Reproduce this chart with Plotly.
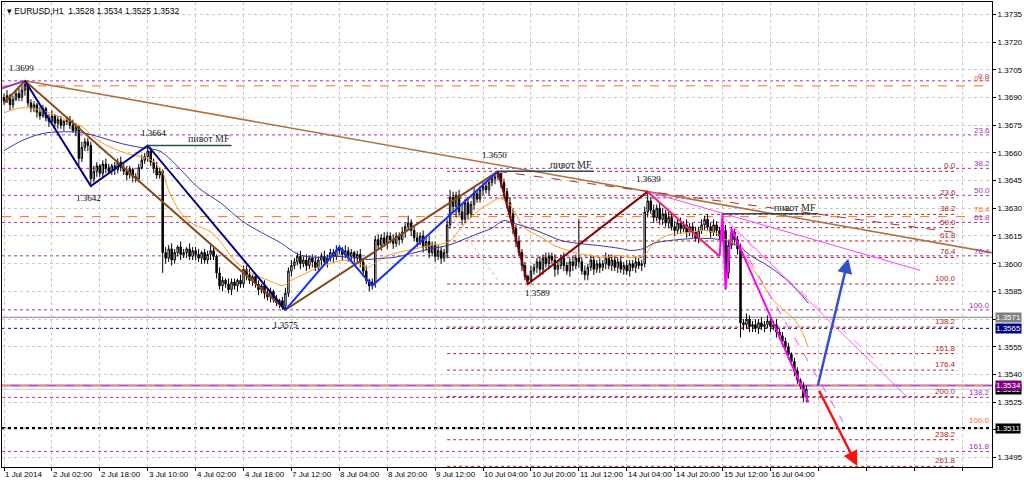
import plotly.graph_objects as go

BASE = 1.3500
PIP = 0.0001

# ---------------- data (prices in pips above 1.3500) ----------------
# H1 bars, bar 0 = 1 Jul 2014 10:00
closes_pips = [
    188, 191, 186, 189, 192, 190, 194, 197, 187, 184,
    186, 182, 180, 184, 179, 177, 180, 176, 178, 175,
    177, 178, 175, 172, 174, 157, 163, 166, 164, 146,
    150, 153, 149, 154, 152, 150, 153, 151, 155, 152,
    150, 148, 151, 147, 146, 152, 156, 158, 161, 155,
    152, 148, 150, 106, 103, 108, 102, 106, 109, 105,
    106, 108, 104, 107, 105, 103, 106, 102, 105, 107,
    104, 95, 88, 91, 89, 86, 90, 88, 91, 89,
    97, 94, 91, 93, 89, 86, 88, 84, 82, 85,
    81, 79, 80, 77, 84, 96, 99, 101, 104, 100,
    102, 99, 103, 101, 98, 102, 104, 101, 103, 106,
    104, 107, 108, 105, 107, 104, 106, 103, 105, 101,
    96, 91, 88, 90, 113, 110, 114, 111, 115, 113,
    111, 115, 113, 117, 120, 122, 118, 114, 112, 115,
    109, 112, 106, 110, 104, 107, 103, 106, 121, 136,
    131, 137, 128, 124, 133, 127, 132, 138, 135, 140,
    142, 140, 144, 146, 147, 149, 144, 139, 133, 127,
    119, 112, 106, 99, 93, 91, 96, 98, 101, 97,
    103, 100, 104, 102, 97, 99, 103, 99, 96, 101,
    99, 103, 101, 96, 94, 98, 102, 97, 100, 98,
    100, 103, 99, 102, 98, 101, 97, 99, 96, 100,
    98, 101, 99, 100, 128, 134, 129, 125, 130, 124,
    127, 122, 125, 120, 118, 122, 119, 121, 117, 120,
    117, 114, 118, 121, 124, 120, 117, 121, 118, 115,
    118, 95, 110, 117, 113, 108, 68, 67, 70, 66,
    67, 65, 68, 66, 67, 69, 66, 67, 63, 61,
    58, 55, 51, 47, 42, 37, 34, 28, 32,
]
first_open_pips = 190
upper_wick_pips = [
    2, 3, 1, 2, 2, 3, 2, 2, 1, 2,
    2, 1, 3, 2, 1, 2, 3, 1, 2, 2,
    1, 2, 2, 3, 2, 1, 3, 2, 2, 2,
    3, 2, 1, 2, 3, 2, 1, 2, 2, 3,
    2, 3, 2, 1, 2, 2, 3, 2, 3, 2,
    2, 3, 2, 1, 3, 2, 3, 2, 1, 3,
    2, 1, 3, 2, 2, 3, 1, 2, 2, 3,
    2, 1, 3, 2, 1, 3, 2, 2, 1, 3,
    2, 2, 3, 1, 2, 2, 1, 3, 2, 2,
    1, 2, 1, 2, 3, 2, 3, 2, 2, 3,
    2, 3, 1, 2, 3, 2, 2, 3, 2, 2,
    2, 3, 2, 1, 3, 2, 2, 1, 2, 3,
    2, 3, 1, 2, 2, 3, 2, 3, 2, 2,
    3, 2, 2, 3, 2, 4, 2, 2, 3, 2,
    3, 2, 3, 2, 2, 3, 2, 2, 3, 4,
    3, 2, 3, 4, 2, 3, 2, 3, 2, 2,
    2, 2, 2, 1, 2, 1, 0, 2, 2, 3,
    3, 2, 3, 2, 2, 1, 3, 2, 2, 3,
    2, 3, 2, 2, 3, 2, 2, 3, 2, 2,
    3, 2, 21, 2, 3, 2, 3, 2, 2, 3,
    2, 3, 2, 3, 2, 2, 3, 2, 3, 2,
    2, 3, 2, 2, 3, 5, 2, 3, 2, 3,
    3, 2, 3, 2, 3, 2, 3, 2, 3, 2,
    2, 3, 2, 3, 2, 3, 2, 3, 2, 2,
    9, 3, 3, 3, 2, 2, 3, 2, 3, 2,
    2, 3, 2, 3, 2, 3, 2, 2, 3, 2,
    2, 2, 2, 1, 2, 2, 1, 2, 2,
]
lower_wick_pips = [
    2, 1, 3, 2, 1, 2, 2, 3, 2, 2,
    2, 3, 2, 1, 2, 3, 2, 2, 3, 2,
    3, 2, 2, 1, 3, 4, 2, 2, 3, 4,
    2, 3, 2, 2, 3, 1, 2, 3, 2, 2,
    2, 3, 2, 3, 2, 2, 1, 2, 3, 2,
    3, 2, 2, 11, 3, 2, 3, 2, 2, 3,
    2, 3, 2, 2, 3, 2, 3, 2, 2, 3,
    2, 3, 2, 3, 2, 2, 3, 2, 3, 2,
    2, 3, 2, 3, 2, 3, 2, 3, 2, 3,
    2, 2, 3, 2, 1, 2, 3, 2, 2, 3,
    2, 3, 2, 3, 2, 2, 3, 2, 3, 2,
    3, 2, 2, 3, 2, 3, 2, 3, 2, 3,
    3, 2, 3, 2, 3, 2, 3, 2, 3, 2,
    3, 2, 3, 2, 3, 2, 3, 2, 3, 2,
    3, 2, 3, 2, 3, 2, 3, 2, 3, 2,
    3, 6, 2, 3, 2, 3, 2, 3, 2, 2,
    3, 2, 3, 2, 3, 2, 3, 3, 3, 2,
    3, 3, 2, 3, 2, 2, 1, 2, 3, 4,
    3, 2, 3, 2, 4, 3, 2, 3, 2, 3,
    3, 2, 3, 2, 3, 3, 2, 3, 2, 3,
    2, 3, 2, 3, 2, 3, 2, 3, 2, 3,
    2, 3, 2, 3, 2, 3, 2, 3, 2, 3,
    3, 2, 3, 2, 3, 2, 3, 2, 3, 2,
    3, 2, 3, 2, 3, 2, 3, 2, 3, 2,
    3, 9, 3, 2, 3, 3, 8, 3, 2, 3,
    3, 2, 3, 2, 3, 2, 3, 2, 3, 2,
    3, 2, 3, 2, 3, 2, 2, 3, 3,
]

# moving averages: (bar, pips)
ma_fast = [(0, 181.7), (6, 184.4), (10.3, 183.9), (16, 181.2), (21.7, 177.4), (27, 173.1),
           (29.3, 169.3), (32.7, 165.5), (38.3, 161.2), (43.7, 158.5), (48.3, 156.9), (52.7, 150.4),
           (55, 139.6), (59.3, 127.1), (63.7, 121.0), (66, 119.6), (69.3, 116.9), (72.7, 111.0),
           (77, 101.8), (82.7, 94.7), (88.3, 91.0), (93.3, 88.2), (96, 91.0), (99.3, 93.6),
           (105, 98.0), (110.3, 100.7), (113.7, 101.8), (118.3, 100.1), (121.7, 98.0), (123.7, 100.1),
           (128.3, 104.5), (135, 107.2), (139.3, 108.8), (142.7, 109.9), (147, 111.0), (149.3, 112.6),
           (152.7, 119.6), (156, 125.0), (159.3, 129.8), (162.7, 133.1), (165.3, 135.3), (168.3, 133.1),
           (170.3, 128.8), (173.7, 119.6), (177, 116.3), (180.3, 113.6), (183.7, 109.9), (188.3, 107.2),
           (191.7, 105.5), (196, 104.5), (200.3, 103.4), (206, 104.5), (209.3, 103.4), (213.7, 104.5),
           (217, 111.0), (221.7, 115.3), (225, 116.3), (229.3, 116.9), (233.7, 118.0), (238.3, 116.3),
           (240.3, 113.6), (245, 109.9), (248.3, 101.8), (252.7, 91.0), (257, 80.1), (261.7, 73.1),
           (265, 67.7), (268.7, 54.8)]
ma_slow = [(0, 161.2), (6, 166.6), (12.7, 170.4), (19.3, 171.4), (26, 170.9), (32.7, 168.2),
           (39.3, 165.0), (46, 162.8), (51.7, 161.2), (55, 157.4), (59.3, 150.4), (65, 141.0),
           (72.7, 132.5), (79.3, 123.4), (86, 116.9), (92.7, 111.0), (96, 107.2), (99.3, 104.5),
           (105, 103.4), (110.3, 103.9), (117, 103.4), (121.7, 102.3), (125, 102.8), (130.3, 103.4),
           (136, 105.5), (142.7, 108.2), (148.3, 109.9), (152.7, 112.6), (158.3, 116.3), (162.7, 119.0),
           (167, 123.4), (169.3, 122.3), (175, 119.6), (180.3, 116.3), (186, 112.6), (191.7, 111.0),
           (198.3, 109.9), (206, 108.2), (209.3, 107.2), (213.7, 108.2), (217, 111.0), (222.7, 112.6),
           (230.3, 113.6), (236, 113.6), (240.3, 112.6), (246, 108.8), (249.3, 104.5), (256, 98.0),
           (262.7, 89.3), (268.7, 78.5)]

# x-axis time labels (every 16 bars); grid continues past the last bar
x_tick_bars = [0, 16, 32, 48, 64, 80, 96, 112, 128, 144, 160, 176, 192, 208, 224, 240, 256]
x_tick_labels = ["1 Jul 2014", "2 Jul 02:00", "2 Jul 18:00", "3 Jul 10:00", "4 Jul 02:00",
                 "4 Jul 18:00", "7 Jul 12:00", "8 Jul 04:00", "8 Jul 20:00", "9 Jul 12:00",
                 "10 Jul 04:00", "10 Jul 20:00", "11 Jul 12:00", "14 Jul 04:00", "14 Jul 20:00",
                 "15 Jul 12:00", "16 Jul 04:00"]
x_grid_bars = x_tick_bars + [272, 288, 304, 320]
y_tick_values = [1.3495, 1.3510, 1.3525, 1.3540, 1.3555, 1.3570, 1.3585, 1.3600, 1.3615,
                 1.3630, 1.3645, 1.3660, 1.3675, 1.3690, 1.3705, 1.3720, 1.3735]
y_tick_hidden = [1.3510, 1.3570]   # covered by the price boxes

# fibonacci drawings: (price at 0%, price at 100%), levels
fib_purple = (1.3699, 1.3575)
fib_purple_levels = [0.0, 23.6, 38.2, 50.0, 61.8, 76.4, 100.0, 138.2, 161.8]
fib_red = (1.3650, 1.3589)
fib_red_levels = [0.0, 23.6, 38.2, 50.0, 61.8, 76.4, 100.0, 138.2, 161.8, 176.4, 200.0, 238.2, 261.8]
fib_red_bars = (148, 318.5)
fib_orange = (1.3996, 1.3511)
fib_orange_levels = [61.8, 76.4, 100.0]

# zigzag / swing points (bar, price)
zz_purple = [(-0.7, 1.3695), (7, 1.3699)]
zz_brown = [(0, 1.3687), (7, 1.3699), (94, 1.3575), (165, 1.3650)]
zz_navy = [(7, 1.3699), (29, 1.3642), (48, 1.3664), (94, 1.3575)]
zz_blue = [(94, 1.3575), (112, 1.3609), (123, 1.3588), (165, 1.3650)]
zz_maroon = [(165, 1.3650), (175, 1.3589), (215, 1.3639)]
zz_pink = [(215, 1.3639), (239, 1.3604)]
zz_magenta = [(239, 1.3604), (240, 1.3627), (241, 1.3586), (243, 1.3619), (268.7, 1.3525)]
trend_brown = [(7, 1.3699), (331, 1.36057)]
trend_dashed_red = [(165, 1.3650), (317.7, 1.36169)]
trend_magenta = [(215, 1.3639), (306, 1.35964)]
trend_gray = [(149, 1.3627), (165, 1.3591)]
fan_solid = [(241, 1.3624), (301.7, 1.35277)]
fan_dashed1 = [(243, 1.3619), (280.3, 1.35142)]
fan_dashed2 = [(244, 1.3618), (293, 1.3545)]

pivots = [(48, 76, 1.3664), (165, 197, 1.3650), (240, 272, 1.3627)]
swing_labels = [(5.8, 1.3699, "1.3699", 13), (50, 1.3664, "1.3664", 12), (28.3, 1.3642, "1.3642", -12),
                (94, 1.3575, "1.3575", -15), (163.7, 1.3650, "1.3650", 16), (178.3, 1.3589, "1.3589", -9),
                (215.3, 1.3639, "1.3639", 13)]

arrow_up = ((271.7, 1.35331), (282, 1.36028))
arrow_down = ((272, 1.35320), (285, 1.34905))

# ---------------- build ----------------
n = len(closes_pips)
bars = list(range(n))
opens, highs, lows, closes = [], [], [], []
prev = first_open_pips
for i in range(n):
    o, c = prev, closes_pips[i]
    opens.append(BASE + o * PIP)
    closes.append(BASE + c * PIP)
    highs.append(BASE + (max(o, c) + upper_wick_pips[i]) * PIP)
    lows.append(BASE + (min(o, c) - lower_wick_pips[i]) * PIP)
    prev = c

fig = go.Figure()

shapes = []
annotations = []

def hline_paper(price, color, dash, width=1):
    shapes.append(dict(type="line", xref="paper", x0=0, x1=1, yref="y", y0=price, y1=price,
                       line=dict(color=color, width=width, dash=dash), layer="below"))

PURPLE = "#a030b8"
RED = "#b22222"
ORANGE = "#ff6a10"

for lv in fib_purple_levels:
    pr = fib_purple[0] + (fib_purple[1] - fib_purple[0]) * lv / 100
    hline_paper(pr, PURPLE, "dot")
    annotations.append(dict(x=1, xref="paper", y=pr, yref="y", text=f"{lv:.1f}", showarrow=False,
                            xanchor="right", yanchor="bottom", yshift=-2,
                            font=dict(size=8, color=PURPLE, family="Liberation Sans")))
for lv in fib_orange_levels:
    pr = fib_orange[0] + (fib_orange[1] - fib_orange[0]) * lv / 100
    hline_paper(pr, ORANGE, "dash")
    annotations.append(dict(x=1, xref="paper", y=pr, yref="y", text=f"{lv:.1f}", showarrow=False,
                            xanchor="right", yanchor="bottom", yshift=1,
                            font=dict(size=8, color=ORANGE, family="Liberation Sans")))
for lv in fib_red_levels:
    pr = fib_red[0] + (fib_red[1] - fib_red[0]) * lv / 100
    shapes.append(dict(type="line", xref="x", x0=fib_red_bars[0], x1=fib_red_bars[1], yref="y",
                       y0=pr, y1=pr, line=dict(color=RED, width=1, dash="dot"), layer="below"))
    annotations.append(dict(x=fib_red_bars[1], xref="x", y=pr, yref="y", text=f"{lv:.1f}",
                            showarrow=False, xanchor="right", yanchor="bottom", yshift=-1,
                            font=dict(size=8, color=RED, family="Liberation Sans")))

# special horizontal lines
hline_paper(1.3571, "#808080", "solid")
hline_paper(1.3565, "#000080", "dot")
hline_paper(1.3532, "#c8c8c8", "solid")
hline_paper(1.3534, "#b050c0", "solid", 2)
hline_paper(1.3534, "#ff9a40", "dash", 1)
hline_paper(1.3511, "#000000", "dot", 2)

fig.add_trace(go.Candlestick(
    x=bars, open=opens, high=highs, low=lows, close=closes,
    increasing=dict(line=dict(color="#000000", width=1), fillcolor="#ffffff"),
    decreasing=dict(line=dict(color="#000000", width=1), fillcolor="#000000"),
    whiskerwidth=0, showlegend=False, hoverinfo="skip"))

def add_line(points, color, width, dash="solid", shape="linear"):
    fig.add_trace(go.Scatter(x=[p[0] for p in points], y=[p[1] for p in points], mode="lines",
                             line=dict(color=color, width=width, dash=dash, shape=shape),
                             showlegend=False, hoverinfo="skip"))

add_line([(b, BASE + v * PIP) for b, v in ma_fast], "#ff9a1a", 1, shape="spline")
add_line([(b, BASE + v * PIP) for b, v in ma_slow], "#3a3aa8", 1, shape="spline")

add_line(trend_gray, "#b8b8b8", 1, dash="dot")
add_line(trend_brown, "#b07040", 1.5)
add_line(trend_dashed_red, "#a83030", 1, dash="dash")
add_line(trend_magenta, "#ff40ff", 1)
add_line(fan_solid, "#ff60ff", 1)
add_line(fan_dashed1, "#ff40ff", 1, dash="dash")
add_line(fan_dashed2, "#ff80ff", 1, dash="dash")
add_line(zz_purple, "#9932cc", 2)
add_line(zz_brown, "#8b4513", 2)
add_line(zz_navy, "#00008b", 2)
add_line(zz_blue, "#1030ff", 2)
add_line(zz_maroon, "#8b0000", 2)
add_line(zz_pink, "#f0207a", 2)
add_line(zz_magenta, "#ff00ff", 2)

for b0, b1, pr in pivots:
    add_line([(b0, pr), (b1, pr)], "#2f4f4f", 1.5)
    annotations.append(dict(x=b1, y=pr, xref="x", yref="y", text="пивот MF", showarrow=False,
                            xanchor="right", yanchor="bottom", yshift=-1,
                            font=dict(size=10, color="#1a2a2a", family="Liberation Serif")))

for b, pr, txt, ys in swing_labels:
    annotations.append(dict(x=b, y=pr, xref="x", yref="y", text=txt, showarrow=False,
                            xanchor="center", yanchor="middle", yshift=ys,
                            font=dict(size=9, color="#000000", family="Liberation Serif")))

for (tail, head), col in ((arrow_up, "#3050d0"), (arrow_down, "#ff1010")):
    annotations.append(dict(x=head[0], y=head[1], ax=tail[0], ay=tail[1], xref="x", yref="y",
                            axref="x", ayref="y", showarrow=True, arrowhead=2, arrowsize=1.2,
                            arrowwidth=2.5, arrowcolor=col, text=""))

for b, lab in zip(x_tick_bars, x_tick_labels):
    annotations.append(dict(x=b, xref="x", y=0, yref="paper", text=lab, showarrow=False,
                            xanchor="left", yanchor="top", yshift=-1, xshift=-1,
                            font=dict(size=8, color="#000000", family="Liberation Sans")))

# right-axis price boxes
for pr, bg in ((1.3571, "#808080"), (1.3565, "#000080"), (1.3532, "#000000"),
               (1.3534, "#800080"), (1.3511, "#000000")):
    annotations.append(dict(x=1, xref="paper", y=pr, yref="y", text=f"{pr:.4f}", showarrow=False,
                            xanchor="left", yanchor="middle", xshift=3, bgcolor=bg, borderpad=0,
                            font=dict(size=8, color="#ffffff", family="Liberation Sans")))

annotations.append(dict(x=0, xref="paper", y=1, yref="paper", xanchor="left", yanchor="top",
                        xshift=3, yshift=-2, showarrow=False,
                        text="▾ EURUSD,H1  1.3528 1.3534 1.3525 1.3532",
                        font=dict(size=8.5, color="#000000", family="Liberation Sans")))

y_tick_text = ["" if v in y_tick_hidden else f"{v:.4f}" for v in y_tick_values]

fig.update_layout(
    width=1024, height=482,
    margin=dict(l=1, r=31, t=1, b=15),
    paper_bgcolor="#ffffff", plot_bgcolor="#ffffff",
    shapes=shapes, annotations=annotations,
    xaxis=dict(range=[-0.667, 330], tickvals=x_grid_bars, showticklabels=False, ticks="outside",
               ticklen=3, tickcolor="#000000", showgrid=True, gridcolor="#c8c8c8", griddash="dot",
               showline=True, linecolor="#000000", mirror=True, zeroline=False,
               rangeslider=dict(visible=False)),
    yaxis=dict(range=[1.348993, 1.374168], side="right", tickvals=y_tick_values,
               ticktext=y_tick_text, ticks="outside", ticklen=3, tickcolor="#000000",
               tickfont=dict(size=8, color="#000000", family="Liberation Sans"),
               showgrid=True, gridcolor="#c8c8c8", griddash="dot", showline=True,
               linecolor="#000000", mirror=True, zeroline=False),
)

fig.write_html("out.html", config={"displayModeBar": False},
               post_script="document.body.style.margin='0';document.body.style.overflow='hidden';")
